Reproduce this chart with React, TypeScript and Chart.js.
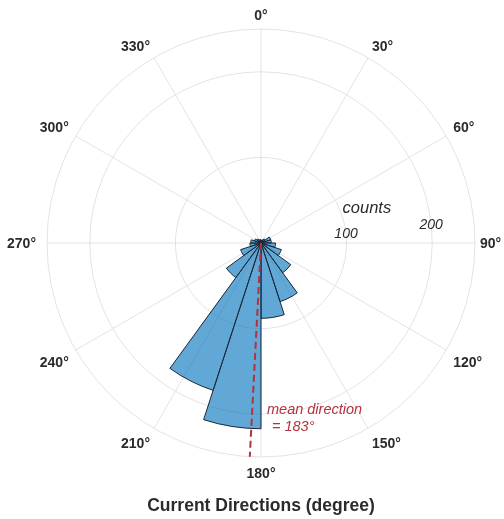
import React, { useEffect, useRef } from "react";
import { Chart, registerables } from "chart.js";

Chart.register(...registerables);

// ---- data ----
const BIN_WIDTH = 18; // degrees per bin, clockwise from north
const BIN_LABELS = [
  "0–18°", "18–36°", "36–54°", "54–72°", "72–90°",
  "90–108°", "108–126°", "126–144°", "144–162°", "162–180°",
  "180–198°", "198–216°", "216–234°", "234–252°", "252–270°",
  "270–288°", "288–306°", "306–324°", "324–342°", "342–360°",
];
const COUNTS = [3, 4, 6, 12, 12, 17, 25, 43, 72, 88, 217, 181, 50, 25, 13, 12, 8, 6, 4, 4];
const ANGLE_TICKS = [0, 30, 60, 90, 120, 150, 180, 210, 240, 270, 300, 330];
const R_TICKS = [100, 200];
const R_MAX = 250;
const MEAN_DIRECTION = 183;
const TITLE = "Current Directions (degree)";
const R_AXIS_TITLE = "counts";
const MEAN_LABEL_1 = "mean direction";
const MEAN_LABEL_2 = "= 183°";

const FONT = "'Liberation Sans', Arial, Helvetica, sans-serif";
const GRID_COLOR = "#e3e3e3";
const TEXT_COLOR = "#2b2b2b";
const MEAN_COLOR = "#b3323d";

const toXY = (cx: number, cy: number, r: number, deg: number) => {
  const a = ((deg - 90) * Math.PI) / 180;
  return [cx + r * Math.cos(a), cy + r * Math.sin(a)];
};

const rosePlugin = {
  id: "roseOverlay",
  beforeDatasetsDraw(chart: any) {
    const s = chart.scales.r;
    const ctx = chart.ctx as CanvasRenderingContext2D;
    const R = s.getDistanceFromCenterForValue(R_MAX);
    ctx.save();
    ctx.strokeStyle = GRID_COLOR;
    ctx.lineWidth = 1;
    for (const a of ANGLE_TICKS) {
      const [x, y] = toXY(s.xCenter, s.yCenter, R, a);
      ctx.beginPath();
      ctx.moveTo(s.xCenter, s.yCenter);
      ctx.lineTo(x, y);
      ctx.stroke();
    }
    ctx.restore();
  },
  afterDatasetsDraw(chart: any) {
    const s = chart.scales.r;
    const ctx = chart.ctx as CanvasRenderingContext2D;
    const cx = s.xCenter;
    const cy = s.yCenter;
    const R = s.getDistanceFromCenterForValue(R_MAX);
    ctx.save();

    // mean direction line
    const [mx, my] = toXY(cx, cy, R, MEAN_DIRECTION);
    ctx.strokeStyle = MEAN_COLOR;
    ctx.lineWidth = 2;
    ctx.setLineDash([7, 4]);
    ctx.beginPath();
    ctx.moveTo(cx, cy);
    ctx.lineTo(mx, my);
    ctx.stroke();
    ctx.setLineDash([]);

    // mean direction text
    ctx.fillStyle = MEAN_COLOR;
    ctx.font = `italic 14.5px ${FONT}`;
    ctx.textAlign = "left";
    ctx.textBaseline = "alphabetic";
    ctx.fillText(MEAN_LABEL_1, cx + 6, cy + 171);
    ctx.fillText(MEAN_LABEL_2, cx + 11, cy + 188);

    // angle labels (anchored by nearest corner, like MATLAB)
    ctx.fillStyle = TEXT_COLOR;
    ctx.font = `bold 14px ${FONT}`;
    ctx.textBaseline = "alphabetic";
    const cap = 10;
    for (const a of ANGLE_TICKS) {
      const txt = `${a}°`;
      const rad = (a * Math.PI) / 180;
      const sn = Math.sin(rad);
      const cs = Math.cos(rad);
      const [x, y] = toXY(cx, cy, R + 8, a);
      ctx.textAlign = sn > 0.01 ? "left" : sn < -0.01 ? "right" : "center";
      let by: number;
      let bx = x;
      if (cs > 0.01) by = y - (Math.abs(sn) < 0.01 ? 1 : 0);
      else if (cs < -0.01) by = y + cap + 3;
      else {
        by = y + cap / 2;
        bx = x - 3;
      }
      ctx.fillText(txt, bx, by);
    }

    // radial tick labels
    ctx.textAlign = "center";
    ctx.textBaseline = "middle";
    ctx.font = `italic 14px ${FONT}`;
    for (const v of R_TICKS) {
      const [x, y] = toXY(cx, cy, s.getDistanceFromCenterForValue(v), 83.5);
      ctx.fillText(String(v), x, y + 1);
    }
    ctx.font = `italic 16.5px ${FONT}`;
    const [tx, ty] = toXY(cx, cy, s.getDistanceFromCenterForValue(130), 72);
    ctx.fillText(R_AXIS_TITLE, tx, ty);

    // title
    ctx.font = `bold 17.5px ${FONT}`;
    ctx.fillStyle = TEXT_COLOR;
    ctx.fillText(TITLE, cx, 506);
    ctx.restore();
  },
};

export default function App() {
  const ref = useRef<HTMLCanvasElement>(null);
  useEffect(() => {
    if (!ref.current) return;
    const chart = new Chart(ref.current, {
      type: "polarArea",
      data: {
        labels: BIN_LABELS,
        datasets: [
          {
            data: COUNTS,
            backgroundColor: "rgba(0,114,189,0.62)",
            borderColor: "#1b2633",
            borderWidth: 1,
            angle: BIN_WIDTH,
          } as any,
        ],
      },
      options: {
        responsive: false,
        animation: false,
        layout: { padding: { left: 47, right: 29, top: 29, bottom: 62 } },
        plugins: {
          legend: { display: false },
          tooltip: { enabled: false },
          title: { display: false },
        },
        scales: {
          r: {
            min: 0,
            max: R_MAX,
            startAngle: 0,
            ticks: { display: false, stepSize: 100 },
            grid: { circular: true, color: GRID_COLOR, lineWidth: 1 },
            angleLines: { display: false },
            pointLabels: { display: false },
          },
        },
      } as any,
      plugins: [rosePlugin],
    });
    return () => chart.destroy();
  }, []);
  return (
    <div style={{ position: "fixed", left: 0, top: 0, width: 504, height: 519, background: "#fff" }}>
      <canvas ref={ref} width={504} height={519} style={{ width: 504, height: 519, display: "block" }} />
    </div>
  );
}
